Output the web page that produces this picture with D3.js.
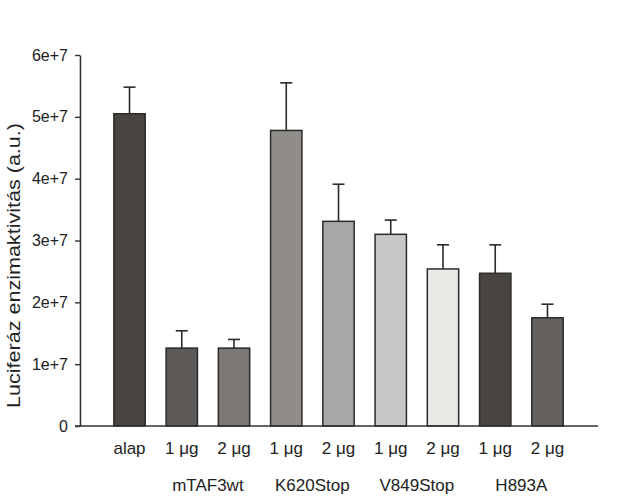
<!DOCTYPE html>
<html>
<head>
<meta charset="utf-8">
<script src="https://cdn.jsdelivr.net/npm/d3@7"></script>
<style>
  html, body { margin: 0; padding: 0; background: #fff; }
  svg text { font-family: "Liberation Sans", Arial, sans-serif; fill: #222; }
</style>
</head>
<body>
<svg id="chart" width="626" height="504"></svg>
<script>
// Values
const doses = ['alap', '1 μg', '2 μg', '1 μg', '2 μg', '1 μg', '2 μg', '1 μg', '2 μg'];
const means = [5.05e7, 1.26e7, 1.26e7, 4.78e7, 3.31e7, 3.10e7, 2.54e7, 2.47e7, 1.75e7];
const errors = [0.43e7, 0.28e7, 0.14e7, 0.77e7, 0.60e7, 0.23e7, 0.39e7, 0.46e7, 0.22e7];
const fills = ['#48443f', '#5d5a57', '#7a7774', '#8f8c89', '#a9a8a6', '#c8c8c6', '#e9e9e6', '#48443f', '#65615e'];
const groupNames = ['mTAF3wt', 'K620Stop', 'V849Stop', 'H893A'];
const groupStart = [1, 3, 5, 7];
const yTicks = [0, 1e7, 2e7, 3e7, 4e7, 5e7, 6e7];
const yTickLabels = ['0', '1e+7', '2e+7', '3e+7', '4e+7', '5e+7', '6e+7'];

const svg = d3.select('#chart');
const axisX = 80, baseY = 426;

const y = d3.scaleLinear().domain([0, 6e7]).range([baseY, 55]);
const x = d3.scaleBand()
    .domain(d3.range(doses.length))
    .range([103.4, 573.6])
    .paddingInner(0.4)
    .paddingOuter(0.2);

// bars
svg.append('g').selectAll('rect')
    .data(means)
    .join('rect')
    .attr('x', (d, i) => x(i))
    .attr('y', d => y(d))
    .attr('width', x.bandwidth())
    .attr('height', d => baseY - y(d))
    .attr('fill', (d, i) => fills[i])
    .attr('stroke', '#2a2a2a')
    .attr('stroke-width', 1.5);

// error bars (upper only)
const eb = svg.append('g').attr('stroke', '#2a2a2a').attr('stroke-width', 1.6);
means.forEach((m, i) => {
    const cx = x(i) + x.bandwidth() / 2;
    eb.append('line').attr('x1', cx).attr('x2', cx).attr('y1', y(m)).attr('y2', y(m + errors[i]));
    eb.append('line').attr('x1', cx - 6).attr('x2', cx + 6).attr('y1', y(m + errors[i])).attr('y2', y(m + errors[i]));
});

// y axis
const yAxis = d3.axisLeft(y)
    .tickValues(yTicks)
    .tickFormat((d, i) => yTickLabels[i])
    .tickSize(5)
    .tickSizeOuter(0)
    .tickPadding(7);
const gy = svg.append('g').attr('transform', `translate(${axisX},0)`).call(yAxis);
gy.select('.domain').attr('stroke', '#333').attr('stroke-width', 1.6);
gy.selectAll('.tick line').attr('stroke', '#333').attr('stroke-width', 1.4);
gy.selectAll('.tick text').attr('font-size', 16).attr('font-family', '"Liberation Sans", Arial, sans-serif').attr('fill', '#222');

// x axis baseline
svg.append('line')
    .attr('x1', axisX - 5).attr('x2', 598)
    .attr('y1', baseY).attr('y2', baseY)
    .attr('stroke', '#333').attr('stroke-width', 1.6);

// dose labels
svg.append('g').selectAll('text')
    .data(doses)
    .join('text')
    .attr('x', (d, i) => x(i) + x.bandwidth() / 2)
    .attr('y', 454)
    .attr('text-anchor', 'middle')
    .attr('font-size', 17)
    .text(d => d);

// construct labels under each pair
svg.append('g').selectAll('text')
    .data(groupNames)
    .join('text')
    .attr('x', (d, i) => (x(groupStart[i]) + x(groupStart[i] + 1) + x.bandwidth()) / 2)
    .attr('y', 491)
    .attr('text-anchor', 'middle')
    .attr('font-size', 17)
    .text(d => d);

// y title
svg.append('text')
    .attr('transform', 'translate(20,265.5) rotate(-90)')
    .attr('text-anchor', 'middle')
    .attr('font-size', 18)
    .attr('textLength', 285)
    .attr('lengthAdjust', 'spacingAndGlyphs')
    .text('Luciferáz enzimaktivitás (a.u.)');
</script>
</body>
</html>
